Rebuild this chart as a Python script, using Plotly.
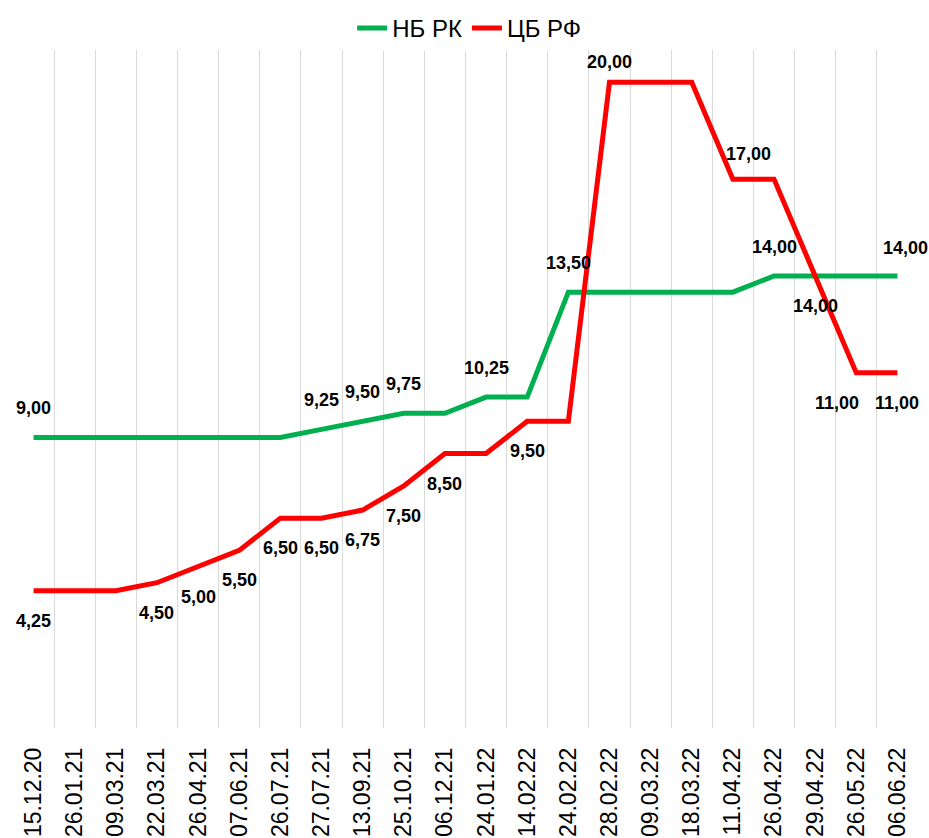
import plotly.graph_objects as go

dates = ["15.12.20", "26.01.21", "09.03.21", "22.03.21", "26.04.21", "07.06.21",
         "26.07.21", "27.07.21", "13.09.21", "25.10.21", "06.12.21", "24.01.22",
         "14.02.22", "24.02.22", "28.02.22", "09.03.22", "18.03.22", "11.04.22",
         "26.04.22", "29.04.22", "26.05.22", "06.06.22"]

nb_rk = [9.00, 9.00, 9.00, 9.00, 9.00, 9.00, 9.00, 9.25, 9.50, 9.75, 9.75, 10.25,
         10.25, 13.50, 13.50, 13.50, 13.50, 13.50, 14.00, 14.00, 14.00, 14.00]

cb_rf = [4.25, 4.25, 4.25, 4.50, 5.00, 5.50, 6.50, 6.50, 6.75, 7.50, 8.50, 8.50,
         9.50, 9.50, 20.00, 20.00, 20.00, 17.00, 17.00, 14.00, 11.00, 11.00]

# indices of labelled points and label side (+1 above, -1 below)
nb_labels = {0: 1, 7: 1, 8: 1, 9: 1, 11: 1, 13: 1, 18: 1, 21: 1}
cb_labels = {0: -1, 3: -1, 4: -1, 5: -1, 6: -1, 7: -1, 8: -1, 9: -1, 10: -1,
             12: -1, 14: 1, 17: 1, 19: -1, 20: -1, 21: -1}

GREEN = "#00B050"
RED = "#FF0000"

fig = go.Figure()
fig.add_trace(go.Scatter(x=dates, y=nb_rk, mode="lines", name="НБ РК",
                         line=dict(color=GREEN, width=5)))
fig.add_trace(go.Scatter(x=dates, y=cb_rf, mode="lines", name="ЦБ РФ",
                         line=dict(color=RED, width=5)))

def fmt(v):
    return f"{v:.2f}".replace(".", ",")

special = {("cb", 14): (0, 20), ("cb", 17): (16, 25), ("cb", 20): (-19, -30),
           ("nb", 21): (8, 28)}

annotations = []
for key, series, labels in (("nb", nb_rk, nb_labels), ("cb", cb_rf, cb_labels)):
    for i, side in labels.items():
        xs, ys = special.get((key, i), (0, 29 if side > 0 else -30))
        annotations.append(dict(x=dates[i], y=series[i], text=fmt(series[i]),
                                showarrow=False, xshift=xs, yshift=ys,
                                font=dict(family="Arial, Liberation Sans", size=18,
                                          color="#000000", weight="bold")))

fig.update_layout(
    width=929, height=838,
    margin=dict(l=13, r=11, t=50, b=110, autoexpand=False),
    paper_bgcolor="white", plot_bgcolor="white",
    showlegend=True,
    legend=dict(orientation="h", x=0.505, xanchor="center", xref="container",
                y=0.993, yanchor="top", yref="container",
                font=dict(family="Arial, Liberation Sans", size=24,
                          color="#000000"),
                itemwidth=30, tracegroupgap=0),
    annotations=annotations,
    xaxis=dict(type="category", categoryorder="array", categoryarray=dates,
               range=[-0.5, len(dates) - 0.5],
               tickson="boundaries", showgrid=True, gridcolor="#D9D9D9", gridwidth=1,
               tickangle=-90, ticks="", showline=False, zeroline=False,
               ticklabelstandoff=14,
               tickfont=dict(family="Arial, Liberation Sans", size=23, color="#000000")),
    yaxis=dict(range=[0, 21], showgrid=False, zeroline=False, showticklabels=False,
               showline=False, ticks=""),
)

fig.write_html("out.html", config={"displayModeBar": False},
               post_script="document.body.style.margin='0px';")
